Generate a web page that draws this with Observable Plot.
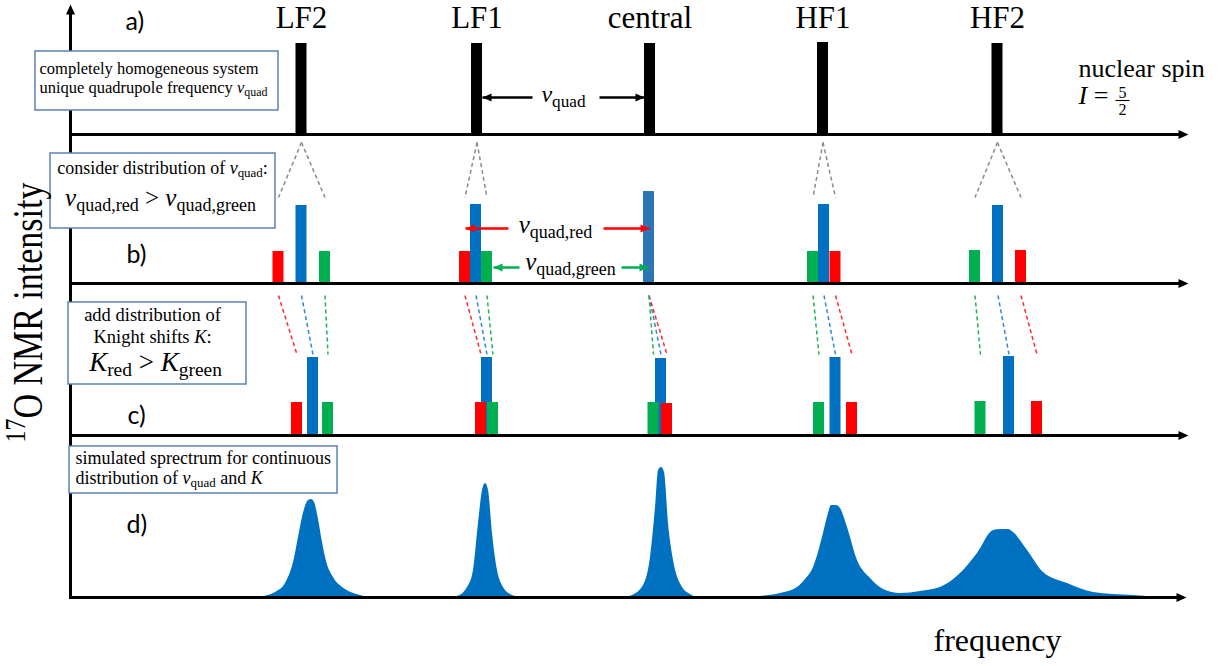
<!DOCTYPE html>
<html><head><meta charset="utf-8">
<script src="https://cdn.jsdelivr.net/npm/d3@7"></script>
<script src="https://cdn.jsdelivr.net/npm/@observablehq/plot@0.6"></script>
<style>html,body{margin:0;padding:0;background:#fff;} svg text{white-space:pre;}</style>
</head><body><div id="chart"></div>
<script>
const W = 1226, H = 666;

// ---------- data ----------
const transitions = ["LF2", "LF1", "central", "HF1", "HF2"];
// (a) unique quadrupole frequency: one line per transition
const nuA  = [301, 476.5, 649.5, 822.5, 997];
const ampA = [91, 91, 91, 92, 91];
// (b) distribution of nu_quad
const nuB_red    = [278, 464.5, null, 835, 1020.5];
const nuB_blue   = [301, 475.5, 648.5, 823.5, 997.5];
const nuB_green  = [324.5, 486.5, null, 812.5, 974.5];
const ampB_red   = [32, 32, null, 32, 33];
const ampB_blue  = [78, 79, 92, 79, 78];
const ampB_green = [32, 32, null, 32, 33];
// (c) plus distribution of Knight shifts
const nuC_red    = [296.5, 480.5, 666.5, 851.5, 1036.5];
const nuC_blue   = [312.5, 486.5, 660.5, 835, 1008.5];
const nuC_green  = [327.5, 492.5, 653, 818.5, 980];
const ampC_red   = [33, 33, 32, 33, 34];
const ampC_blue  = [78, 78, 77, 78, 79];
const ampC_green = [33, 33, 33, 33, 34];
// (d) simulated spectrum
const specFreq = [255,263,275,285,293,299,304,308,311,314,318,322,326,333,345,360,370,
  450,457,467,473,478,482,485,488,492,497,503,512,520,
  625,632,643,650,655,658,661,664,668,673,682,690,697,
  750,760,780,797,805,813,818,823,828,831,836,840,847,857,870,883,900,920,940,960,977,993,1000,1008,1013,1027,1043,1067,1093,1133,1160];
const specInt  = [0,1,5,14,35,65,88,97,98,95,78,55,36,20,8,2,0,
  0,1,10,27,74,107,114,107,64,27,10,2,0,
  0,2,12,40,90,127,130,125,74,37,10,3,0,
  0,1,4,10,18,30,45,64,84,92,92,89,70,37,19,8,4,6,10,24,44,67,68,68,65,47,25,14,5,2,0];

// ---------- layout ----------
const base = {a: 134, b: 283, c: 435, d: 597};
const barW = 11;
const C = {red: "#ff0000", blue: "#0070c0", green: "#00b050", blueC: "#2e75b6"};
const DC = {red: "#ff2a2a", blue: "#2f86d6", green: "#1fb25a"};
const serif = "'Liberation Serif', 'Times New Roman', serif";
const sans = "Lato, 'Open Sans', sans-serif";

const barsA = transitions.map((t, i) => ({x: nuA[i], base: base.a, h: ampA[i], fill: "#000"}));
const seriesB = [["blue", nuB_blue, ampB_blue], ["red", nuB_red, ampB_red], ["green", nuB_green, ampB_green]];
const seriesC = [["blue", nuC_blue, ampC_blue], ["red", nuC_red, ampC_red], ["green", nuC_green, ampC_green]];
const barsB = seriesB.flatMap(([c, nu, amp]) => transitions.map((t, i) => nu[i] == null ? null :
  ({x: nu[i], base: base.b, h: amp[i], fill: t === "central" ? C.blueC : C[c]})).filter(Boolean));
const barsC = seriesC.flatMap(([c, nu, amp]) => transitions.map((t, i) =>
  ({x: nu[i], base: base.c, h: amp[i], fill: C[c]})));
const bars = [...barsA, ...barsB, ...barsC];

const greyLinks = transitions.flatMap((t, i) => t === "central" ? [] :
  [nuB_red[i], nuB_green[i]].map(x2 => ({x1: nuA[i], y1: base.a + 8, x2, y2: base.b - 86})));
const colorLinks = seriesC.flatMap(([c, nu]) => transitions.map((t, i) => {
  const bSeries = {red: nuB_red, blue: nuB_blue, green: nuB_green}[c];
  return {x1: bSeries[i] ?? nuB_blue[i], y1: base.b + 12, x2: nu[i], y2: base.c - 81, stroke: DC[c]};
}));

const spectrum = specFreq.map((f, i) => ({f, h: specInt[i]}));

const axisLines = [
  {x1: 70, y1: base.d + 1.5, x2: 70, y2: 12},
  ...["a", "b", "c", "d"].map(k => ({x1: 68.5, y1: base[k], x2: 1180, y2: base[k]}))
];
const ARROW = (angle, k = 0.9) => ({
  draw(ctx, size) {
    const r = Math.sqrt(size / Math.PI), L = 2 * r, w = k * r;
    const c = Math.cos(angle), s = Math.sin(angle);
    const p = [[0, 0], [-L, -w], [-L, w]].map(([x, y]) => [x * c - y * s, x * s + y * c]);
    ctx.moveTo(p[0][0], p[0][1]); ctx.lineTo(p[1][0], p[1][1]); ctx.lineTo(p[2][0], p[2][1]); ctx.closePath();
  }
});
const axisHeadsRight = ["a", "b", "c", "d"].map(k => ({x: k === "d" ? 1186 : 1188, y: base[k]}));

const boxes = [
  {x1: 35, x2: 278, y1: 51, y2: 110},
  {x1: 50, x2: 275, y1: 153, y2: 228},
  {x1: 68, x2: 246, y1: 302, y2: 384},
  {x1: 69, x2: 337, y1: 446, y2: 493}
];

const annArrows = [
  {x1: 532, x2: 482, y: 97, color: "#000"}, {x1: 599, x2: 644, y: 97, color: "#000"},
  {x1: 508, x2: 465, y: 228, color: C.red}, {x1: 603, x2: 649, y: 228, color: C.red},
  {x1: 519, x2: 493, y: 267, color: C.green}, {x1: 621, x2: 648, y: 267, color: C.green}
];

const textMid = [
  ...transitions.map((t, i) => ({x: nuA[i], y: 27, t, s: 31})),
  {x: 563, y: 101, t: "*ν*_{quad}", s: 24},
  {x: 555, y: 232, t: "*ν*_{quad,red}", s: 25},
  {x: 570, y: 269, t: "*ν*_{quad,green}", s: 25},
  {x: 162, y: 173, t: "consider distribution of *ν*_{quad}:", s: 18},
  {x: 160, y: 205, t: "*ν*_{quad,red} > *ν*_{quad,green}", s: 25},
  {x: 152, y: 320, t: "add distribution of", s: 18.5},
  {x: 152, y: 342, t: "Knight shifts *K*:", s: 18.5},
  {x: 155, y: 370, t: "*K*_{red} > *K*_{green}", s: 27},
  {x: 997, y: 650, t: "frequency", s: 32},
  {x: 1122, y: 97, t: "5", s: 16},
  {x: 1122, y: 114, t: "2", s: 16}
];
const textStart = [
  {x: 39, y: 73, t: "completely homogeneous system", s: 16.5},
  {x: 39, y: 92, t: "unique quadrupole frequency *ν*_{quad}", s: 16.5},
  {x: 75, y: 463, t: "simulated sprectrum for continuous", s: 18},
  {x: 75, y: 483, t: "distribution of *ν*_{quad} and *K*", s: 18},
  {x: 1078, y: 76, t: "nuclear spin", s: 26},
  {x: 1078, y: 103, t: "*I* =", s: 26}
];
const panelLabels = [
  {x: 125, y: 29, t: "a)"}, {x: 126, y: 262, t: "b)"}, {x: 127, y: 423, t: "c)"}, {x: 126, y: 532, t: "d)"}
];

const chart = Plot.plot({
  width: W, height: H, margin: 0,
  x: {domain: [0, W], range: [0, W], axis: null},
  y: {domain: [0, H], range: [0, H], axis: null},
  color: {type: "identity"},
  style: {background: "#fff", overflow: "visible"},
  marks: [
    Plot.area(spectrum, {x1: d => d.f, y1: () => base.d, y2: d => base.d - d.h, curve: "monotone-x", fill: C.blue}),
    Plot.rect(bars, {x1: d => d.x - barW / 2, x2: d => d.x + barW / 2, y1: d => d.base, y2: d => d.base - d.h, fill: d => d.fill}),
    Plot.link(greyLinks, {x1: "x1", y1: "y1", x2: "x2", y2: "y2", stroke: "#8a8a8a", strokeWidth: 1.5, strokeDasharray: "4,3"}),
    Plot.link(colorLinks, {x1: "x1", y1: "y1", x2: "x2", y2: "y2", stroke: d => d.stroke, strokeWidth: 1.5, strokeDasharray: "4,3"}),
    Plot.link(axisLines, {x1: "x1", y1: "y1", x2: "x2", y2: "y2", stroke: "#000", strokeWidth: 3}),
    Plot.dot([{x: 70, y: 4}], {x: "x", y: "y", r: 5, symbol: ARROW(-Math.PI / 2), fill: "#000", stroke: "none"}),
    Plot.dot(axisHeadsRight, {x: "x", y: "y", r: 5, symbol: ARROW(0), fill: "#000", stroke: "none"}),
    Plot.rect(boxes, {x1: "x1", x2: "x2", y1: "y1", y2: "y2", fill: "#fff", stroke: "#5b82b5", strokeWidth: 1.5}),
    Plot.link(annArrows, {x1: "x1", y1: "y", x2: "x2", y2: "y", stroke: d => d.color, strokeWidth: 2.5}),
    Plot.dot(annArrows.filter(d => d.x2 < d.x1), {x: "x2", y: "y", r: 4.5, symbol: ARROW(Math.PI), fill: d => d.color, stroke: "none"}),
    Plot.dot(annArrows.filter(d => d.x2 > d.x1), {x: "x2", y: "y", r: 4.5, symbol: ARROW(0), fill: d => d.color, stroke: "none"}),
    Plot.link([{x1: 1115, x2: 1129, y: 100}], {x1: "x1", y1: "y", x2: "x2", y2: "y", stroke: "#000", strokeWidth: 1.1}),
    Plot.text(textMid, {x: "x", y: "y", text: "t", fontSize: d => d.s, fontFamily: serif, textAnchor: "middle", lineAnchor: "bottom", fill: "#000"}),
    Plot.text(textStart, {x: "x", y: "y", text: "t", fontSize: d => d.s, fontFamily: serif, textAnchor: "start", lineAnchor: "bottom", fill: "#000"}),
    Plot.text(panelLabels, {x: "x", y: "y", text: "t", fontSize: 25, fontFamily: sans, textAnchor: "start", lineAnchor: "bottom", fill: "#000"}),
    Plot.text([{x: 41, y: 312, t: "^{17}O NMR intensity"}], {x: "x", y: "y", text: "t", rotate: -90, fontSize: 34, fontFamily: serif, textAnchor: "middle", lineAnchor: "bottom", fill: "#000"})
  ]
});
document.getElementById("chart").appendChild(chart);

// rich text: *italic*, _{sub}, ^{sup}
function richText(svg) {
  const NS = "http://www.w3.org/2000/svg";
  for (const t of svg.querySelectorAll("text")) {
    const s = t.textContent;
    if (!/[*_^]/.test(s)) continue;
    const fs = parseFloat(getComputedStyle(t).fontSize) || 16;
    t.textContent = "";
    let shift = 0, m;
    const re = /\*([^*]+)\*|_\{([^}]*)\}|\^\{([^}]*)\}|([^*_^]+)/g;
    while ((m = re.exec(s))) {
      const ts = document.createElementNS(NS, "tspan");
      let target = 0, txt, size = null;
      if (m[1] != null) { txt = m[1]; ts.setAttribute("font-style", "italic"); }
      else if (m[2] != null) { txt = m[2]; target = 0.22 * fs; size = 0.72 * fs; }
      else if (m[3] != null) { txt = m[3]; target = -0.4 * fs; size = 0.7 * fs; }
      else txt = m[4];
      if (target !== shift) { ts.setAttribute("dy", (target - shift).toFixed(2)); shift = target; }
      if (size) ts.setAttribute("font-size", size.toFixed(2));
      ts.textContent = txt;
      t.appendChild(ts);
    }
    // the vertical axis title is drawn taller (wider on screen), as in the reference
    if (s.includes("NMR")) t.setAttribute("transform", t.getAttribute("transform") + " scale(1,1.25)");
  }
}
richText(chart);
</script></body></html>
